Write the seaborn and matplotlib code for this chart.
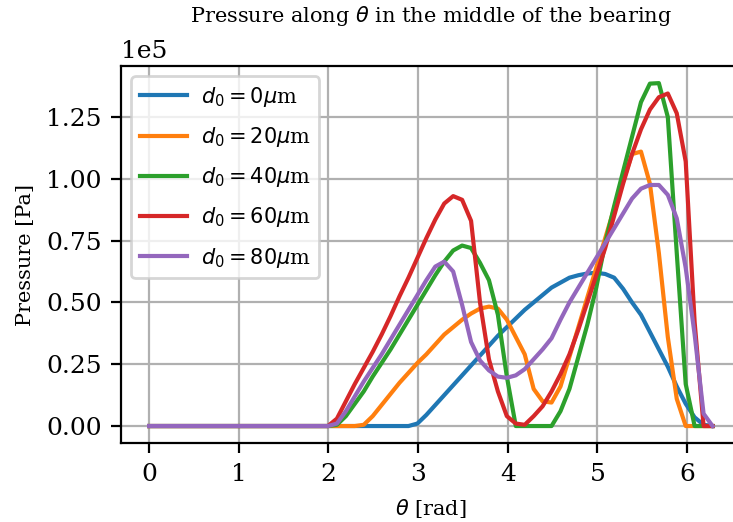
import numpy as np
import pandas as pd
import matplotlib
matplotlib.use("Agg")
import matplotlib.pyplot as plt
import seaborn as sns

# angular grid (rad)
theta = np.linspace(0, 2 * np.pi, 64)

# pressure values in units of 1e5 Pa
p_d0 = [0.0] * 30 + [0.01, 0.045, 0.085, 0.125, 0.165, 0.205, 0.245, 0.285, 0.325, 0.365,
                     0.40, 0.435, 0.47, 0.50, 0.53, 0.56, 0.58, 0.60, 0.61, 0.617,
                     0.62, 0.615, 0.60, 0.555, 0.50, 0.45, 0.38, 0.31, 0.24, 0.16,
                     0.09, 0.035, 0.005, 0.0]
p_d20 = [0.0] * 24 + [0.005, 0.04, 0.085, 0.13, 0.175, 0.215, 0.255, 0.29, 0.33, 0.37,
                      0.40, 0.43, 0.455, 0.475, 0.483, 0.475, 0.43, 0.36, 0.29, 0.15,
                      0.10, 0.095, 0.16, 0.28, 0.40, 0.52, 0.64, 0.76, 0.88, 0.99,
                      1.10, 1.11, 0.98, 0.70, 0.36, 0.11, 0.0, 0.0, 0.0, 0.0]
p_d40 = [0.0] * 21 + [0.005, 0.04, 0.09, 0.14, 0.20, 0.255, 0.31, 0.37, 0.43, 0.49,
                      0.55, 0.61, 0.665, 0.71, 0.73, 0.72, 0.66, 0.59, 0.45, 0.20,
                      0.0, 0.0, 0.0, 0.0, 0.0, 0.06, 0.15, 0.28, 0.41, 0.56,
                      0.74, 0.89, 1.03, 1.17, 1.31, 1.385, 1.387, 1.25, 0.70, 0.17,
                      0.0, 0.0, 0.0]
p_d60 = [0.0] * 21 + [0.03, 0.10, 0.17, 0.235, 0.30, 0.37, 0.445, 0.525, 0.60, 0.68,
                      0.76, 0.835, 0.90, 0.93, 0.915, 0.83, 0.50, 0.27, 0.14, 0.04,
                      0.01, 0.005, 0.04, 0.08, 0.14, 0.21, 0.29, 0.39, 0.50, 0.61,
                      0.72, 0.85, 0.98, 1.10, 1.20, 1.28, 1.33, 1.345, 1.265, 1.07,
                      0.42, 0.0, 0.0]
p_d80 = [0.0] * 21 + [0.01, 0.06, 0.12, 0.18, 0.235, 0.29, 0.35, 0.41, 0.47, 0.53,
                      0.59, 0.645, 0.665, 0.625, 0.49, 0.34, 0.265, 0.225, 0.20, 0.195,
                      0.205, 0.23, 0.27, 0.31, 0.355, 0.43, 0.50, 0.56, 0.62, 0.68,
                      0.74, 0.80, 0.86, 0.92, 0.96, 0.975, 0.975, 0.935, 0.84, 0.64,
                      0.37, 0.05, 0.0]

labels = [r"$d_0 = 0\mu$m", r"$d_0 = 20\mu$m", r"$d_0 = 40\mu$m",
          r"$d_0 = 60\mu$m", r"$d_0 = 80\mu$m"]
series = [p_d0, p_d20, p_d40, p_d60, p_d80]
scale = 1e5

plt.rcParams['font.family'] = ['DejaVu Serif']
plt.rcParams['mathtext.fontset'] = 'dejavusans'

colors = sns.color_palette("tab10", 5)

fig = plt.figure(figsize=(7.33 / 2, 5.22 / 2), dpi=200)
ax = fig.add_axes([0.165, 0.151, 0.8455, 0.7226])

for vals, lab, col in zip(series, labels, colors):
    df = pd.DataFrame({"theta": theta, "p": np.array(vals) * scale})
    sns.lineplot(data=df, x="theta", y="p", color=col, label=lab, ax=ax,
                 linewidth=1.5, sort=False, estimator=None)

ax.spines['right'].set_visible(False)
ax.grid(True, color='#b0b0b0', linewidth=0.8)
ax.set_axisbelow(True)
ax.ticklabel_format(axis='y', style='sci', scilimits=(0, 0))
ax.tick_params(labelsize=9)
ax.yaxis.get_offset_text().set_fontsize(9)
ax.set_xticks([0, 1, 2, 3, 4, 5, 6])
ax.set_xlabel(r"$\theta$ [rad]", fontsize=7.5)
ax.set_ylabel("Pressure [Pa]", fontsize=7.5)
ax.set_title(r"Pressure along $\theta$ in the middle of the bearing", fontsize=7.5, pad=16)
ax.legend(loc='upper left', fontsize=7.5, handlelength=2.25, handletextpad=0.7,
          labelspacing=0.78)

fig.savefig("out.png", dpi=200)
